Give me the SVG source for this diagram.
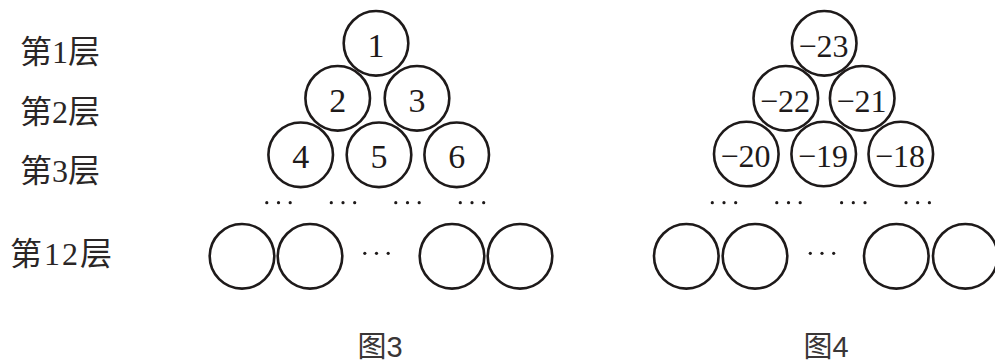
<svg xmlns="http://www.w3.org/2000/svg" width="995" height="364" viewBox="0 0 995 364">
  <style>
    .ball { fill: none; stroke: #1e1a1a; stroke-width: 2.6; }
    .num { font-family: "Liberation Serif", "Times New Roman", serif; font-size: 34px; fill: #1e1a1a; text-anchor: middle; }
    .neg { font-family: "Liberation Serif", "Times New Roman", serif; font-size: 32px; fill: #1e1a1a; text-anchor: middle; }
    .lbl { font-family: "Liberation Serif", "Noto Sans CJK SC", serif; font-size: 32px; fill: #2a2626; }
    .cap { font-family: "Liberation Sans", "Noto Sans CJK SC", sans-serif; font-size: 29px; fill: #3a3636; text-anchor: middle; }
    .dot { fill: #1e1a1a; }
  </style>
  <defs>
    <circle id="ball" r="32.3" class="ball"/>
    <g id="dots3">
      <circle cx="-11.7" cy="0" r="1.6" class="dot"/>
      <circle cx="0" cy="0" r="1.6" class="dot"/>
      <circle cx="11.7" cy="0" r="1.6" class="dot"/>
    </g>
  </defs>

  <!-- row labels -->
  <g id="labels">
    <text class="lbl" x="20" y="63">第1层</text>
    <text class="lbl" x="20" y="123">第2层</text>
    <text class="lbl" x="20" y="182">第3层</text>
    <text class="lbl" x="10" y="265" letter-spacing="2">第12层</text>
  </g>

  <!-- left triangle: 1..6 -->
  <g id="fig3">
    <g id="n1"><use href="#ball" x="376" y="43.3"/><text class="num" x="376" y="56.7">1</text></g>
    <g id="n2"><use href="#ball" x="337.7" y="98.3"/><text class="num" x="337.7" y="111.7">2</text></g>
    <g id="n3"><use href="#ball" x="417" y="98.3"/><text class="num" x="417" y="111.7">3</text></g>
    <g id="n4"><use href="#ball" x="300.7" y="154.8"/><text class="num" x="300.7" y="168.2">4</text></g>
    <g id="n5"><use href="#ball" x="379" y="154.8"/><text class="num" x="379" y="168.2">5</text></g>
    <g id="n6"><use href="#ball" x="456.7" y="154.8"/><text class="num" x="456.7" y="168.2">6</text></g>
    <g id="gap3">
      <use href="#dots3" x="278.5" y="202.7"/>
      <use href="#dots3" x="343" y="202.7"/>
      <use href="#dots3" x="407.5" y="202.7"/>
      <use href="#dots3" x="472" y="202.7"/>
    </g>
    <g id="row12a">
      <g id="n12a1"><use href="#ball" x="242" y="256.3"/></g>
      <g id="n12a2"><use href="#ball" x="310" y="256.3"/></g>
      <use href="#dots3" x="376.5" y="253.3"/>
      <g id="n12a3"><use href="#ball" x="452" y="256.3"/></g>
      <g id="n12a4"><use href="#ball" x="520" y="256.3"/></g>
    </g>
    <text class="cap" x="380" y="357">图3</text>
  </g>

  <!-- right triangle: -23..-18 -->
  <g id="fig4">
    <g id="m1"><use href="#ball" x="824.2" y="43.3"/><text class="neg" x="823.5" y="56.5">−23</text></g>
    <g id="m2"><use href="#ball" x="785.8" y="98.3"/><text class="neg" x="785" y="111.5">−22</text></g>
    <g id="m3"><use href="#ball" x="862.2" y="98.3"/><text class="neg" x="861.5" y="111.5">−21</text></g>
    <g id="m4"><use href="#ball" x="746.3" y="154"/><text class="neg" x="745.5" y="167.2">−20</text></g>
    <g id="m5"><use href="#ball" x="823.7" y="154"/><text class="neg" x="823" y="167.2">−19</text></g>
    <g id="m6"><use href="#ball" x="900.8" y="154"/><text class="neg" x="900" y="167.2">−18</text></g>
    <g id="gap4">
      <use href="#dots3" x="724" y="202.7"/>
      <use href="#dots3" x="788.5" y="202.7"/>
      <use href="#dots3" x="853.3" y="202.7"/>
      <use href="#dots3" x="917.7" y="202.7"/>
    </g>
    <g id="row12b">
      <g id="m12b1"><use href="#ball" x="686.3" y="256.3"/></g>
      <g id="m12b2"><use href="#ball" x="755" y="256.3"/></g>
      <use href="#dots3" x="822" y="253.3"/>
      <g id="m12b3"><use href="#ball" x="896.3" y="256.3"/></g>
      <g id="m12b4"><use href="#ball" x="965.3" y="256.3"/></g>
    </g>
    <text class="cap" x="826" y="357">图4</text>
  </g>
</svg>
